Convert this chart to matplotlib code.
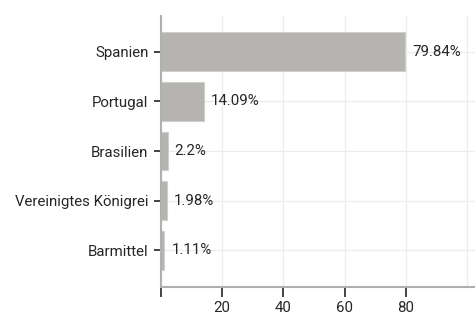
import matplotlib
matplotlib.use('Agg')
import matplotlib.pyplot as plt

# Data
countries = ['Spanien', 'Portugal', 'Brasilien', 'Vereinigtes Königrei', 'Barmittel']
shares = [79.84, 14.09, 2.2, 1.98, 1.11]
labels = ['79.84%', '14.09%', '2.2%', '1.98%', '1.11%']
xticks = [0, 20, 40, 60, 80]
xtick_labels = ['', '20', '40', '60', '80']

plt.rcParams['font.family'] = ['Roboto', 'DejaVu Sans']
plt.rcParams['font.size'] = 10.8

fig = plt.figure(figsize=(4.75, 3.15), dpi=100)
ax = fig.add_axes([0.339, 0.089, 0.661, 0.86])

pos = list(range(len(countries)))
ax.barh(pos, shares, height=0.78, color='#b5b4b0', edgecolor='#cfcecb', linewidth=0.8, zorder=2)

for p, v, lab in zip(pos, shares, labels):
    ax.annotate(lab, (v, p), xytext=(5, 0), textcoords='offset points',
                va='center', ha='left', color='#262626')

ax.set_yticks(pos)
ax.set_yticklabels(countries, color='#262626')
ax.set_ylim(4.74, -0.72)
ax.set_xlim(0, 102.6)
ax.set_xticks(xticks)
ax.set_xticklabels(xtick_labels, color='#262626')
ax.set_xticks([100], minor=True)

ax.grid(True, which='both', color='#ececec', linewidth=0.9, zorder=0)
ax.tick_params(axis='x', which='minor', length=0)
ax.tick_params(axis='x', length=7, width=1.2, color='#222222', pad=3)
ax.tick_params(axis='y', length=5, width=1.2, color='#222222', pad=4)

for side in ['top', 'right']:
    ax.spines[side].set_visible(False)
for side in ['left', 'bottom']:
    ax.spines[side].set_color('#b0b0b0')
    ax.spines[side].set_linewidth(1.5)

fig.savefig('out.png', dpi=100)
